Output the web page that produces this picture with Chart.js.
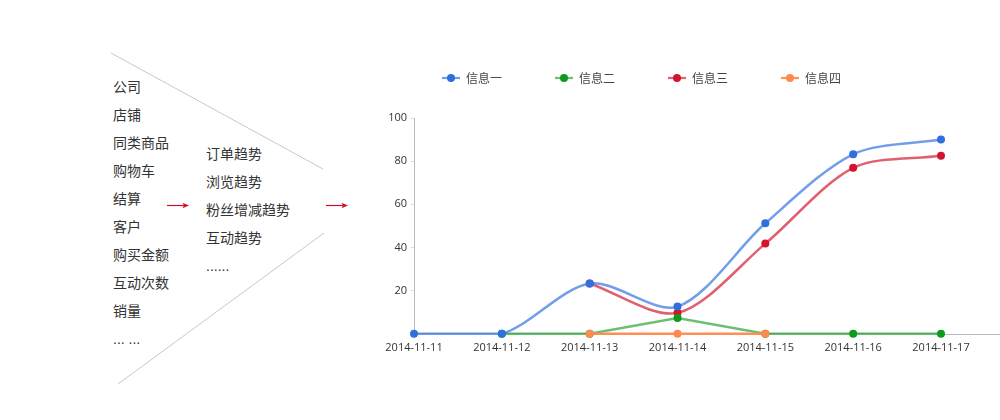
<!DOCTYPE html>
<html><head><meta charset="utf-8">
<script src="https://cdn.jsdelivr.net/npm/chart.js@4.4.1/dist/chart.umd.min.js"></script>
<style>
html,body{margin:0;padding:0;background:#fff;width:1000px;height:420px;overflow:hidden;}
#deco{position:absolute;left:0;top:0;}
.col{position:absolute;font-family:"Liberation Sans","Noto Sans CJK SC";font-size:14px;color:#333;line-height:28px;white-space:nowrap;}
#wrap{position:absolute;left:370px;top:0;width:630px;height:420px;}
</style></head>
<body>
<svg id="deco" width="1000" height="420">
  <line x1="111" y1="53" x2="323" y2="169" stroke="#c8c8c8" stroke-width="1"/>
  <line x1="324" y1="233" x2="118" y2="384" stroke="#c8c8c8" stroke-width="1"/>
  <line x1="167" y1="205.5" x2="185" y2="205.5" stroke="#d0102a" stroke-width="1.2"/>
  <polygon points="189,205.5 182.5,202.8 184,205.5 182.5,208.2" fill="#d0102a"/>
  <line x1="326" y1="205.5" x2="344" y2="205.5" stroke="#d0102a" stroke-width="1.2"/>
  <polygon points="348,205.5 341.5,202.8 343,205.5 341.5,208.2" fill="#d0102a"/>
</svg>
<div class="col" id="c1" style="left:113px;top:73px"></div>
<div class="col" id="c2" style="left:206px;top:140px"></div>
<div id="wrap"><canvas id="c" width="630" height="420"></canvas></div>
<script>
const sources = ['公司','店铺','同类商品','购物车','结算','客户','购买金额','互动次数','销量','... ...'];
const trends = ['订单趋势','浏览趋势','粉丝增减趋势','互动趋势','......'];

const categories = ['2014-11-11','2014-11-12','2014-11-13','2014-11-14','2014-11-15','2014-11-16','2014-11-17'];
const seriesNames = ['信息一','信息二','信息三','信息四'];
const info1 = [0, 0, 23.3, 12.6, 51.2, 83.2, 90];
const info2 = [null, 0, 0, 7.3, 0, 0, 0];
const info3 = [null, null, 23.3, 9.7, 41.8, 76.9, 82.5];
const info4 = [null, null, 0, 0, 0, null, null];
const yTicks = [20, 40, 60, 80, 100];

document.getElementById('c1').innerHTML = sources.map(s => '<div>' + s + '</div>').join('');
document.getElementById('c2').innerHTML = trends.map(s => '<div>' + s + '</div>').join('');

const pointColors = ['#2f6fde', '#0e9a1c', '#d2142e', '#ff8a50'];
const lineColors = ['rgba(47,111,222,0.68)', 'rgba(14,154,28,0.62)', 'rgba(210,20,46,0.68)', 'rgba(255,138,80,0.95)'];
const tensions = [0.3, 0, 0.3, 0];
const orders = [0, 1, 2, -1];
const seriesValues = [info1, info2, info3, info4];

function legendMarker(pc, lc) {
  const c = document.createElement('canvas');
  c.width = 18; c.height = 10;
  const g = c.getContext('2d');
  g.strokeStyle = lc; g.lineWidth = 2.2;
  g.beginPath(); g.moveTo(0, 5); g.lineTo(18, 5); g.stroke();
  g.fillStyle = pc;
  g.beginPath(); g.arc(9, 5, 4, 0, Math.PI * 2); g.fill();
  return c;
}

const legendGap = {
  id: 'legendGap',
  beforeInit(chart) {
    const fit = chart.legend.fit;
    chart.legend.fit = function () { fit.call(this); this.height += 24; };
  }
};

const baselineExt = {
  id: 'baselineExt',
  beforeDatasetsDraw(chart) {
    const {ctx, chartArea} = chart;
    const y = Math.round(chartArea.bottom) + 0.5;
    ctx.save();
    ctx.strokeStyle = '#bbbbbb';
    ctx.lineWidth = 1;
    ctx.beginPath();
    ctx.moveTo(chartArea.right, y);
    ctx.lineTo(chart.width, y);
    ctx.stroke();
    ctx.restore();
  }
};

const datasets = seriesNames.map((name, i) => ({
  label: name,
  data: seriesValues[i],
  borderColor: lineColors[i],
  backgroundColor: pointColors[i],
  pointBackgroundColor: pointColors[i],
  pointBorderColor: pointColors[i],
  pointRadius: 4,
  pointBorderWidth: 0,
  pointHoverRadius: 4,
  borderWidth: 2.5,
  tension: tensions[i],
  fill: false,
  clip: false,
  order: orders[i]
}));

new Chart(document.getElementById('c'), {
  type: 'line',
  data: { labels: categories, datasets },
  options: {
    responsive: false,
    animation: false,
    layout: { padding: { left: 19, top: 19, right: 59, bottom: 59 } },
    plugins: {
      tooltip: { enabled: false },
      legend: {
        position: 'top',
        align: 'start',
        labels: {
          usePointStyle: true,
          pointStyleWidth: 18,
          padding: 53,
          color: '#444',
          font: { family: 'Noto Sans CJK SC', size: 12 },
          sort: (a, b) => a.datasetIndex - b.datasetIndex,
          generateLabels(chart) {
            const items = Chart.defaults.plugins.legend.labels.generateLabels(chart);
            items.forEach(it => { it.pointStyle = legendMarker(pointColors[it.datasetIndex], lineColors[it.datasetIndex]); });
            return items;
          }
        }
      }
    },
    scales: {
      x: {
        offset: false,
        grid: { display: true, drawOnChartArea: false, drawTicks: false },
        border: { display: true, color: '#bbbbbb', width: 1 },
        ticks: { color: '#333', padding: 7, maxRotation: 0, autoSkip: false, font: { family: 'Open Sans', size: 11 } }
      },
      y: {
        min: 0, max: 100,
        afterBuildTicks: s => { s.ticks = yTicks.map(v => ({ value: v })); },
        afterFit: s => { s.width = 25; },
        grid: { display: true, drawOnChartArea: false, drawTicks: true, tickLength: 3, color: '#dddddd' },
        border: { display: true, color: '#bbbbbb', width: 1 },
        ticks: { color: '#333', padding: 4, font: { family: 'Open Sans', size: 11 } }
      }
    }
  },
  plugins: [legendGap, baselineExt]
});
</script>
</body></html>
